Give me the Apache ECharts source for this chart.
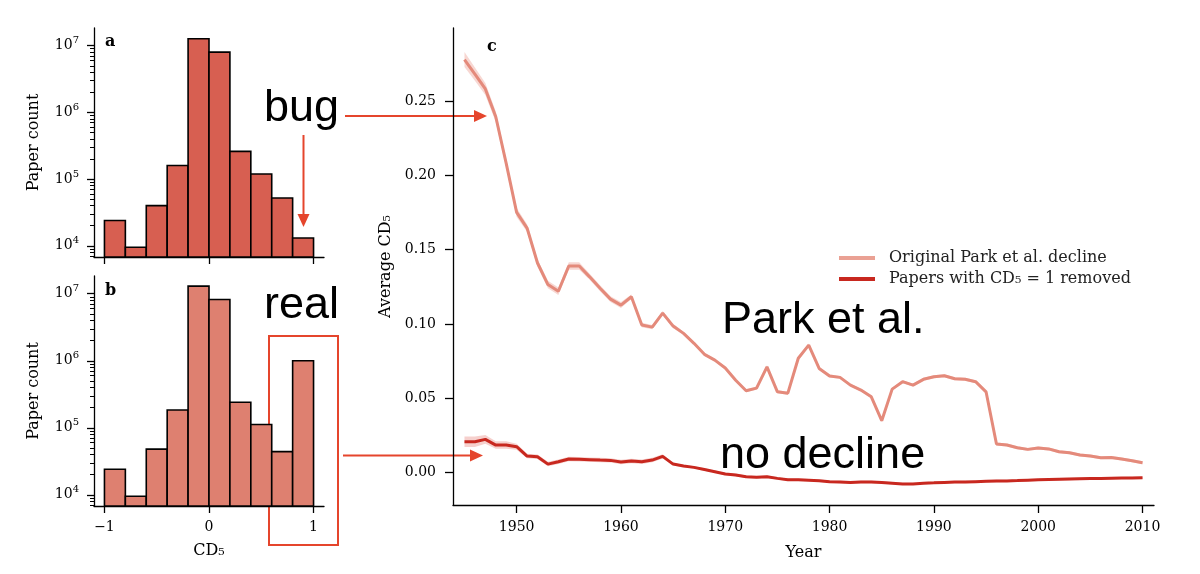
<!DOCTYPE html>
<html>
<head>
<meta charset="utf-8">
<script src="https://cdn.jsdelivr.net/npm/echarts@6/dist/echarts.min.js"></script>
<style>
  html, body { margin: 0; padding: 0; background: #fff; }
  #main { width: 1200px; height: 574px; }
</style>
</head>
<body>
<div id="main"></div>
<script>
// histogram bins (CD5) and paper counts
var binEdges = [-1, -0.8, -0.6, -0.4, -0.2, 0, 0.2, 0.4, 0.6, 0.8, 1];
var countsBug = [24000, 9500, 40000, 160000, 12700000, 8000000, 260000, 119000, 52000, 13100];
var countsReal = [24000, 9500, 48000, 184000, 13000000, 8200000, 240000, 112000, 44000, 1000000];
var histTicks = [-1, 0, 1];
var logTicks = [1e4, 1e5, 1e6, 1e7];
var logExponents = ['4', '5', '6', '7'];

// average CD5 per year
var years = [1945, 1946, 1947, 1948, 1949, 1950, 1951, 1952, 1953, 1954,
  1955, 1956, 1957, 1958, 1959, 1960, 1961, 1962, 1963, 1964,
  1965, 1966, 1967, 1968, 1969, 1970, 1971, 1972, 1973, 1974,
  1975, 1976, 1977, 1978, 1979, 1980, 1981, 1982, 1983, 1984,
  1985, 1986, 1987, 1988, 1989, 1990, 1991, 1992, 1993, 1994,
  1995, 1996, 1997, 1998, 1999, 2000, 2001, 2002, 2003, 2004,
  2005, 2006, 2007, 2008, 2009, 2010];
var origDecline = [0.2778, 0.268, 0.258, 0.2393, 0.208, 0.175, 0.1645, 0.141, 0.1265, 0.122,
  0.139, 0.139, 0.1317, 0.124, 0.1167, 0.1127, 0.1183, 0.0993, 0.0979, 0.1073,
  0.0986, 0.0937, 0.087, 0.0796, 0.0757, 0.0704, 0.0622, 0.0551, 0.0569, 0.0712,
  0.0544, 0.0535, 0.077, 0.0858, 0.0701, 0.065, 0.0641, 0.0589, 0.0556, 0.051,
  0.035, 0.0562, 0.0612, 0.0589, 0.0628, 0.0645, 0.0652, 0.0632, 0.0628, 0.0612,
  0.0544, 0.0193, 0.0186, 0.0168, 0.0157, 0.0166, 0.016, 0.0141, 0.0134, 0.0119,
  0.0112, 0.0101, 0.0103, 0.0092, 0.0081, 0.0067];
var origCI = [0.005, 0.0045, 0.004, 0.0035, 0.003, 0.003, 0.0025, 0.0025, 0.0025, 0.0025,
  0.0025, 0.0025, 0.002, 0.002, 0.002, 0.002, 0.0015, 0.0015, 0.0015, 0.0015,
  0.0015, 0.001, 0.001, 0.001, 0.001, 0.001, 0.001, 0.001, 0.001, 0.001,
  0.001, 0.001, 0.001, 0.001, 0.001, 0.001, 0.001, 0.001, 0.001, 0.001,
  0.001, 0.001, 0.001, 0.001, 0.001, 0.001, 0.001, 0.001, 0.001, 0.001,
  0.001, 0.001, 0.001, 0.001, 0.001, 0.001, 0.001, 0.001, 0.001, 0.001,
  0.001, 0.001, 0.001, 0.001, 0.001, 0.001];
var removedDecline = [0.0208, 0.0208, 0.0224, 0.0186, 0.0186, 0.0175, 0.0112, 0.0108, 0.0058, 0.0074,
  0.0092, 0.009, 0.0088, 0.0085, 0.0083, 0.0072, 0.0079, 0.0074, 0.0085, 0.011,
  0.0058, 0.0045, 0.0036, 0.0022, 0.0007, -0.0009, -0.0015, -0.0027, -0.0031, -0.0027,
  -0.0038, -0.0047, -0.0047, -0.005, -0.0054, -0.006, -0.0062, -0.0065, -0.0062, -0.0062,
  -0.0065, -0.007, -0.0075, -0.0075, -0.007, -0.0068, -0.0065, -0.0063, -0.0062, -0.006,
  -0.0058, -0.0056, -0.0055, -0.0053, -0.005, -0.0048, -0.0046, -0.0044, -0.0042, -0.004,
  -0.0039, -0.0038, -0.0037, -0.0036, -0.0035, -0.0033];
var removedCI = [0.0035, 0.0035, 0.003, 0.0025, 0.0025, 0.002, 0.0015, 0.0015, 0.0015, 0.0015,
  0.0015, 0.0015, 0.0015, 0.0015, 0.0015, 0.0015, 0.0015, 0.0015, 0.0015, 0.0015,
  0.0008, 0.0008, 0.0008, 0.0008, 0.0008, 0.0008, 0.0008, 0.0008, 0.0008, 0.0008,
  0.0008, 0.0008, 0.0008, 0.0008, 0.0008, 0.0008, 0.0008, 0.0008, 0.0008, 0.0008,
  0.0008, 0.0008, 0.0008, 0.0008, 0.0008, 0.0008, 0.0008, 0.0008, 0.0008, 0.0008,
  0.0008, 0.0008, 0.0008, 0.0008, 0.0008, 0.0008, 0.0008, 0.0008, 0.0008, 0.0008,
  0.0008, 0.0008, 0.0008, 0.0008, 0.0008, 0.0008];
var yearTicks = [1950, 1960, 1970, 1980, 1990, 2000, 2010];
var cdTicks = [0, 0.05, 0.1, 0.15, 0.2, 0.25];

var serif = 'DejaVu Serif';
var annoRed = '#e5452c';
var logMin = 6800, logMax = 18400000;

// minor ticks for the log axes (2..9 x 10^k)
var minorTicks = [];
for (var k = 3; k <= 7; k++) {
  for (var m = 2; m <= 9; m++) {
    var v = m * Math.pow(10, k);
    if (v > logMin && v < logMax) minorTicks.push(v);
  }
}

var myChart = echarts.init(document.getElementById('main'));

var nameStyle = { fontFamily: serif, fontSize: 16, color: '#000' };

function histX(grid, showLabels) {
  return {
    type: 'value', gridIndex: grid, min: -1.1, max: 1.1,
    splitLine: { show: false },
    axisLine: { onZero: false, lineStyle: { color: '#000', width: 1.3 } },
    axisTick: { customValues: histTicks, length: 7, lineStyle: { color: '#000', width: 1.3 } },
    axisLabel: {
      show: showLabels, customValues: histTicks, margin: 14,
      fontFamily: serif, fontSize: 14, color: '#000',
      formatter: function (v) { return String(v).replace('-', '\u2212'); }
    },
    name: showLabels ? 'CD₅' : '', nameLocation: 'middle', nameGap: 37,
    nameTextStyle: nameStyle
  };
}

function histY(grid) {
  return [{
    type: 'log', logBase: 10, gridIndex: grid, min: logMin, max: logMax, position: 'left',
    splitLine: { show: false },
    axisLine: { show: true, onZero: false, lineStyle: { color: '#000', width: 1.3 } },
    axisTick: { customValues: logTicks, length: 7, lineStyle: { color: '#000', width: 1.3 } },
    axisLabel: {
      customValues: logTicks, margin: 15, color: '#000',
      formatter: function (v) {
        var i = logTicks.indexOf(v);
        return i < 0 ? '' : '{b|10}{s|' + logExponents[i] + '}';
      },
      rich: {
        b: { fontFamily: serif, fontSize: 14, lineHeight: 20, color: '#000' },
        s: { fontFamily: serif, fontSize: 10, lineHeight: 12, verticalAlign: 'top', color: '#000' }
      }
    },
    name: 'Paper count', nameLocation: 'middle', nameGap: 52,
    nameTextStyle: nameStyle
  }, {
    type: 'log', logBase: 10, gridIndex: grid, min: logMin, max: logMax, position: 'left',
    splitLine: { show: false },
    axisLine: { show: false, onZero: false },
    axisTick: { customValues: minorTicks, length: 4, lineStyle: { color: '#000', width: 1 } },
    axisLabel: { show: false }
  }];
}

function histSeries(xi, yi, counts, fill) {
  var data = counts.map(function (c, i) { return [binEdges[i], binEdges[i + 1], c]; });
  return {
    type: 'custom', xAxisIndex: xi, yAxisIndex: yi, data: data,
    encode: { x: [0, 1], y: 2 },
    renderItem: function (params, api) {
      var p0 = api.coord([api.value(0), api.value(2)]);
      var p1 = api.coord([api.value(1), logMin]);
      return {
        type: 'rect',
        shape: { x: p0[0], y: p0[1], width: p1[0] - p0[0], height: p1[1] - p0[1] },
        style: { fill: fill, stroke: '#000', lineWidth: 1.6 }
      };
    }
  };
}

function bandSeries(vals, ci, fill) {
  return {
    type: 'custom', xAxisIndex: 2, yAxisIndex: 4, silent: true, z: 1,
    data: [[years[0], vals[0]]],
    renderItem: function (params, api) {
      var up = [], lo = [];
      for (var i = 0; i < years.length; i++) {
        up.push(api.coord([years[i], vals[i] + ci[i]]));
        lo.unshift(api.coord([years[i], vals[i] - ci[i]]));
      }
      return { type: 'polygon', shape: { points: up.concat(lo) }, style: { fill: fill } };
    }
  };
}

function pairs(vals) {
  return years.map(function (y, i) { return [y, vals[i]]; });
}

function arrow(x1, y1, x2, y2) {
  // straight arrow with filled head at (x2, y2)
  var dx = x2 - x1, dy = y2 - y1, len = Math.sqrt(dx * dx + dy * dy);
  var ux = dx / len, uy = dy / len, hl = 13, hw = 6;
  var bx = x2 - ux * hl, by = y2 - uy * hl;
  return [{
    type: 'line', shape: { x1: x1, y1: y1, x2: bx, y2: by },
    style: { stroke: annoRed, lineWidth: 2 }
  }, {
    type: 'polygon',
    shape: { points: [[x2, y2], [bx - uy * hw, by + ux * hw], [bx + uy * hw, by - ux * hw]] },
    style: { fill: annoRed }
  }];
}

function bigText(str, x, y) {
  return {
    type: 'text', x: x, y: y,
    style: { text: str, fontFamily: 'Liberation Sans', fontSize: 45, fill: '#000', verticalAlign: 'middle' }
  };
}

function panelLabel(str, x, y) {
  return {
    type: 'text', x: x, y: y,
    style: { text: str, fontFamily: serif, fontWeight: 'bold', fontSize: 16, fill: '#000', verticalAlign: 'middle' }
  };
}

var graphics = [
  bigText('bug', 264, 109),
  bigText('real', 264, 306),
  bigText('Park et al.', 722, 321),
  bigText('no decline', 720, 456),
  panelLabel('a', 105, 42),
  panelLabel('b', 105, 291),
  panelLabel('c', 487, 47),
  {
    type: 'rect', shape: { x: 269, y: 336, width: 69, height: 209 },
    style: { fill: 'none', stroke: annoRed, lineWidth: 2 }
  }
].concat(arrow(345, 116, 487, 116))
 .concat(arrow(303.5, 135, 303.5, 227))
 .concat(arrow(343, 455.5, 483, 455.5));

var option = {
  animation: false,
  backgroundColor: '#fff',
  grid: [
    { left: 94, top: 28, width: 230, height: 229 },
    { left: 94, top: 276, width: 230, height: 230 },
    { left: 453, top: 28, width: 701, height: 477 }
  ],
  xAxis: [
    histX(0, false),
    histX(1, true),
    {
      type: 'value', gridIndex: 2, min: 1943.9, max: 2011.1,
      splitLine: { show: false },
      axisLine: { onZero: false, lineStyle: { color: '#000', width: 1.3 } },
      axisTick: { customValues: yearTicks, length: 8, lineStyle: { color: '#000', width: 1.3 } },
      axisLabel: {
        customValues: yearTicks, margin: 15, fontFamily: serif, fontSize: 14, color: '#000',
        formatter: function (v) { return String(v); }
      },
      name: 'Year', nameLocation: 'middle', nameGap: 40,
      nameTextStyle: nameStyle
    }
  ],
  yAxis: histY(0).concat(histY(1)).concat([{
    type: 'value', gridIndex: 2, min: -0.0217, max: 0.299, position: 'left',
    splitLine: { show: false },
    axisLine: { show: true, onZero: false, lineStyle: { color: '#000', width: 1.3 } },
    axisTick: { customValues: cdTicks, length: 8, lineStyle: { color: '#000', width: 1.3 } },
    axisLabel: {
      customValues: cdTicks, margin: 17, fontFamily: serif, fontSize: 14, color: '#000',
      formatter: function (v) { return v.toFixed(2); }
    },
    name: 'Average CD₅', nameLocation: 'middle', nameGap: 58,
    nameTextStyle: nameStyle
  }]),
  legend: {
    left: 834, top: 245, orient: 'vertical', itemWidth: 36, itemHeight: 4, itemGap: 5,
    textStyle: { fontFamily: serif, fontSize: 16, color: '#222', padding: [0, 0, 0, 9] },
    data: [
      { name: 'Original Park et al. decline', icon: 'rect', itemStyle: { color: '#eaa194' } },
      { name: 'Papers with CD₅ = 1 removed', icon: 'rect', itemStyle: { color: '#c8281f' } }
    ]
  },
  graphic: graphics,
  series: [
    histSeries(0, 0, countsBug, '#d75f51'),
    histSeries(1, 2, countsReal, '#de8070'),
    bandSeries(origDecline, origCI, 'rgba(232,140,125,0.35)'),
    bandSeries(removedDecline, removedCI, 'rgba(225,100,90,0.3)'),
    {
      name: 'Original Park et al. decline', type: 'line', xAxisIndex: 2, yAxisIndex: 4,
      data: pairs(origDecline), showSymbol: false, z: 3,
      color: '#e48a7b', lineStyle: { width: 3, color: '#e48a7b' }
    },
    {
      name: 'Papers with CD₅ = 1 removed', type: 'line', xAxisIndex: 2, yAxisIndex: 4,
      data: pairs(removedDecline), showSymbol: false, z: 3,
      color: '#c8281f', lineStyle: { width: 3, color: '#c8281f' }
    }
  ]
};

myChart.setOption(option);
</script>
</body>
</html>
